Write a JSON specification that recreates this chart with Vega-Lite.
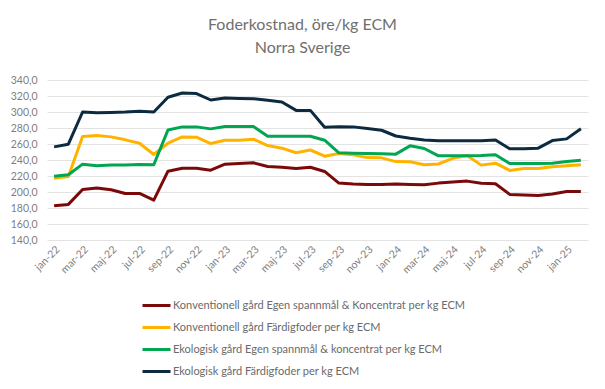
{
  "$schema": "https://vega.github.io/schema/vega-lite/v6.json",
  "width": 541,
  "height": 160,
  "autosize": "none",
  "padding": {"left": 47, "top": 80, "right": 17, "bottom": 149},
  "background": "white",
  "title": {
    "text": ["Foderkostnad, öre/kg ECM", "Norra Sverige"],
    "font": "Lato",
    "fontSize": 16,
    "fontWeight": "normal",
    "color": "#6f6f6f",
    "lineHeight": 23,
    "anchor": "middle",
    "dx": -15,
    "offset": 3,
    "baseline": "bottom"
  },
  "data": {
    "values": [
      {"m": "jan-22", "k1": 182.8, "k2": 217.3, "k3": 219.8, "k4": 256.4},
      {"m": "feb-22", "k1": 184.5, "k2": 219.4, "k3": 221.5, "k4": 259.8},
      {"m": "mar-22", "k1": 203.2, "k2": 269.3, "k3": 234.8, "k4": 300.0},
      {"m": "apr-22", "k1": 204.9, "k2": 270.6, "k3": 232.7, "k4": 299.0},
      {"m": "maj-22", "k1": 202.8, "k2": 268.9, "k3": 233.6, "k4": 299.5},
      {"m": "jun-22", "k1": 198.2, "k2": 265.2, "k3": 233.6, "k4": 300.0},
      {"m": "jul-22", "k1": 198.2, "k2": 261.0, "k3": 234.4, "k4": 301.0},
      {"m": "aug-22", "k1": 189.9, "k2": 246.9, "k3": 234.0, "k4": 300.0},
      {"m": "sep-22", "k1": 226.0, "k2": 261.0, "k3": 277.6, "k4": 318.4},
      {"m": "okt-22", "k1": 229.8, "k2": 268.9, "k3": 281.4, "k4": 323.8},
      {"m": "nov-22", "k1": 229.8, "k2": 268.5, "k3": 281.4, "k4": 323.0},
      {"m": "dec-22", "k1": 227.3, "k2": 260.6, "k3": 278.9, "k4": 315.0},
      {"m": "jan-23", "k1": 234.8, "k2": 264.7, "k3": 281.8, "k4": 317.5},
      {"m": "feb-23", "k1": 235.6, "k2": 264.7, "k3": 281.8, "k4": 317.0},
      {"m": "mar-23", "k1": 236.5, "k2": 266.0, "k3": 281.8, "k4": 316.7},
      {"m": "apr-23", "k1": 231.9, "k2": 258.0, "k3": 269.7, "k4": 314.6},
      {"m": "maj-23", "k1": 231.0, "k2": 254.8, "k3": 269.7, "k4": 312.6},
      {"m": "jun-23", "k1": 229.4, "k2": 249.0, "k3": 269.7, "k4": 302.0},
      {"m": "jul-23", "k1": 231.0, "k2": 252.5, "k3": 269.7, "k4": 302.0},
      {"m": "aug-23", "k1": 225.7, "k2": 244.8, "k3": 264.7, "k4": 281.0},
      {"m": "sep-23", "k1": 211.1, "k2": 248.0, "k3": 249.0, "k4": 281.7},
      {"m": "okt-23", "k1": 209.9, "k2": 246.5, "k3": 248.5, "k4": 281.4},
      {"m": "nov-23", "k1": 209.4, "k2": 243.0, "k3": 248.0, "k4": 279.3},
      {"m": "dec-23", "k1": 209.4, "k2": 242.7, "k3": 247.7, "k4": 277.2},
      {"m": "jan-24", "k1": 209.9, "k2": 238.0, "k3": 247.3, "k4": 270.0},
      {"m": "feb-24", "k1": 209.4, "k2": 237.7, "k3": 257.7, "k4": 267.2},
      {"m": "mar-24", "k1": 209.0, "k2": 234.0, "k3": 254.4, "k4": 265.0},
      {"m": "apr-24", "k1": 211.1, "k2": 235.0, "k3": 245.2, "k4": 264.0},
      {"m": "maj-24", "k1": 212.4, "k2": 242.0, "k3": 245.2, "k4": 264.0},
      {"m": "jun-24", "k1": 213.6, "k2": 245.6, "k3": 245.2, "k4": 264.0},
      {"m": "jul-24", "k1": 211.0, "k2": 233.6, "k3": 245.6, "k4": 264.0},
      {"m": "aug-24", "k1": 210.3, "k2": 236.0, "k3": 246.5, "k4": 265.0},
      {"m": "sep-24", "k1": 197.0, "k2": 227.0, "k3": 235.6, "k4": 254.0},
      {"m": "okt-24", "k1": 196.2, "k2": 229.4, "k3": 235.6, "k4": 254.0},
      {"m": "nov-24", "k1": 195.7, "k2": 229.4, "k3": 235.6, "k4": 254.8},
      {"m": "dec-24", "k1": 197.4, "k2": 231.5, "k3": 236.0, "k4": 264.3},
      {"m": "jan-25", "k1": 200.7, "k2": 232.7, "k3": 238.0, "k4": 266.4},
      {"m": "feb-25", "k1": 200.7, "k2": 234.0, "k3": 239.8, "k4": 279.0}
    ]
  },
  "transform": [
    {"fold": ["k1", "k2", "k3", "k4"], "as": ["serie", "v"]}
  ],
  "mark": {"type": "line", "strokeWidth": 3, "strokeJoin": "round"},
  "encoding": {
    "x": {
      "field": "m",
      "type": "ordinal",
      "sort": null,
      "scale": {"type": "point", "padding": 0.5},
      "axis": {
        "title": null,
        "values": ["jan-22", "mar-22", "maj-22", "jul-22", "sep-22", "nov-22", "jan-23", "mar-23", "maj-23", "jul-23", "sep-23", "nov-23", "jan-24", "mar-24", "maj-24", "jul-24", "sep-24", "nov-24", "jan-25"],
        "labelAngle": -45,
        "labelFont": "Lato",
        "labelFontSize": 10.5,
        "labelColor": "#7f7f7f",
        "labelPadding": 4,
        "ticks": false,
        "domain": false,
        "grid": false
      }
    },
    "y": {
      "field": "v",
      "type": "quantitative",
      "scale": {"domain": [140, 340], "nice": false, "zero": false},
      "axis": {
        "title": null,
        "values": [140, 160, 180, 200, 220, 240, 260, 280, 300, 320, 340],
        "labelExpr": "replace(format(datum.value, '.1f'), '.', ',')",
        "labelFont": "Lato",
        "labelFontSize": 10.5,
        "labelColor": "#7f7f7f",
        "labelPadding": 10,
        "ticks": false,
        "domain": false,
        "grid": true,
        "gridColor": "#e3e3e3",
        "gridWidth": 1
      }
    },
    "color": {
      "field": "serie",
      "type": "nominal",
      "scale": {
        "domain": ["k1", "k2", "k3", "k4"],
        "range": ["#7a0a0a", "#ffb300", "#00a650", "#0c2b40"]
      },
      "legend": {
        "title": null,
        "orient": "none",
        "legendX": 94,
        "legendY": 210,
        "direction": "vertical",
        "symbolType": "stroke",
        "symbolSize": 784,
        "symbolStrokeWidth": 3,
        "labelFont": "Lato",
        "labelFontSize": 11,
        "labelColor": "#6a6a6a",
        "labelOffset": 1,
        "labelLimit": 400,
        "rowPadding": -5,
        "padding": 0,
        "labelExpr": "datum.value == 'k1' ? 'Konventionell gård Egen spannmål & Koncentrat per kg ECM' : datum.value == 'k2' ? 'Konventionell gård Färdigfoder per kg ECM' : datum.value == 'k3' ? 'Ekologisk gård Egen spannmål & koncentrat per kg ECM' : 'Ekologisk gård Färdigfoder per kg ECM'"
      }
    }
  },
  "config": {
    "view": {"stroke": null}
  }
}
